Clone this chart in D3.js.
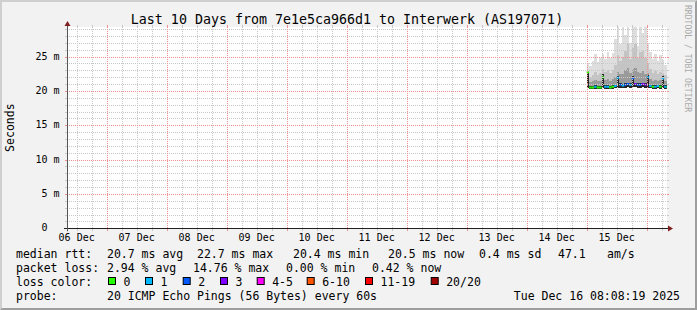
<!DOCTYPE html>
<html>
<head>
<meta charset="utf-8">
<script src="https://cdn.jsdelivr.net/npm/d3@7"></script>
<style>
  body { margin: 0; background: #f2f2f2; }
  text { font-family: "DejaVu Sans Mono", monospace; white-space: pre; }
</style>
</head>
<body>
<div id="chart"></div>
<script>
// ---- data (hourly buckets, ms) ----
var bucketTimes = [
  "2025-12-15 00:00","2025-12-15 01:00","2025-12-15 02:00","2025-12-15 03:00","2025-12-15 04:00",
  "2025-12-15 05:00","2025-12-15 06:00","2025-12-15 07:00","2025-12-15 08:00","2025-12-15 09:00",
  "2025-12-15 10:00","2025-12-15 11:00","2025-12-15 12:00","2025-12-15 13:00","2025-12-15 14:00",
  "2025-12-15 15:00","2025-12-15 16:00","2025-12-15 17:00","2025-12-15 18:00","2025-12-15 19:00",
  "2025-12-15 20:00","2025-12-15 21:00","2025-12-15 22:00","2025-12-15 23:00","2025-12-16 00:00",
  "2025-12-16 01:00","2025-12-16 02:00","2025-12-16 03:00","2025-12-16 04:00","2025-12-16 05:00",
  "2025-12-16 06:00","2025-12-16 07:00","2025-12-16 08:00"];

var medianRtt = [22.7,20.5,20.5,20.6,20.5,20.5,22.0,20.6,20.6,20.5,20.6,20.7,21.9,20.9,20.8,20.9,21.0,
                 20.9,21.8,21.0,20.9,20.9,21.0,20.9,22.0,20.7,20.6,20.6,20.7,20.6,21.8,20.6,20.5];
var lossCount = [0,0,0,1,0,0,0,1,1,0,0,1,1,2,1,2,2,1,2,3,2,2,3,3,1,1,0,1,1,0,1,1,0];

var smokeMin  = [20.4,20.3,20.3,20.3,20.3,20.3,20.4,20.3,20.3,20.3,20.3,20.4,20.4,20.4,20.4,20.4,20.5,
                 20.4,20.5,20.5,20.4,20.4,20.5,20.4,20.4,20.4,20.3,20.3,20.4,20.3,20.4,20.3,20.3];
var smokeMax  = [24.0,23.6,24.4,25.3,24.2,24.8,25.4,24.6,25.6,24.8,25.5,27.5,29.4,26.8,29.4,28.2,29.4,
                 27.0,29.4,29.4,26.6,29.4,28.4,29.4,27.0,25.6,24.6,25.4,24.4,25.2,24.5,23.8,23.6];
var smokeP80  = [22.6,22.0,22.3,22.8,22.3,22.6,23.2,22.7,23.1,22.6,23.0,23.8,25.2,24.4,25.0,25.8,26.8,
                 24.6,26.2,26.8,24.8,25.6,25.8,24.8,24.0,23.2,22.6,22.9,22.5,22.8,22.6,22.3,22.1];
var smokeP65  = [22.6,21.3,21.4,21.6,21.4,21.5,22.5,21.6,21.7,21.5,21.7,22.0,22.8,22.5,22.4,23.0,23.4,
                 22.6,23.2,23.3,22.7,22.6,22.9,22.4,22.6,21.8,21.5,21.6,21.5,21.6,22.3,21.4,21.3];
var smokeP55  = [22.6,20.7,20.7,20.8,20.7,20.7,22.4,20.8,20.8,20.7,20.8,20.9,22.2,21.1,21.0,21.1,21.2,
                 21.1,22.1,21.2,21.1,21.1,21.2,21.1,22.3,20.9,20.8,20.8,20.9,20.8,22.1,20.8,20.7];

var yTickValues = [0, 5, 10, 15, 20, 25];
var yTickLabels = ["0  ", "5 m", "10 m", "15 m", "20 m", "25 m"];

var lossLabels = ["0", "1", "2", "3", "4-5", "6-10", "11-19", "20/20"];
var lossLimits = [0, 1, 2, 3, 5, 10, 19, 20];
var lossColors = ["#26ff00", "#00b8ff", "#0059ff", "#7e00ff", "#ff00ff", "#ff5500", "#ff0000", "#a10000"];

var titleText = "Last 10 Days from 7e1e5ca966d1 to Interwerk (AS197071)";
var rttStats  = ["20.7 ms avg", "22.7 ms max", "20.4 ms min", "20.5 ms now", "0.4 ms sd", "47.1", "am/s"];
var lossStats = ["2.94 % avg", "14.76 % max", "0.00 % min", "0.42 % now"];
var probeText = "20 ICMP Echo Pings (56 Bytes) every 60s";
var dateText  = "Tue Dec 16 08:08:19 2025";

// ---- layout ----
var W = 697, H = 310;
var X0 = 67, X1 = 667, Y0 = 228.3, Y1 = 27;
var rttX = [107, 197, 293, 388, 479, 558, 607];
var lossX = [107, 193, 286, 372];
var boxX = [108, 145, 182.7, 220, 256.7, 306.7, 365, 430.7];

var parseT = d3.utcParse("%Y-%m-%d %H:%M");
var parseFull = d3.utcParse("%Y-%m-%d %H:%M:%S");
var tStart = parseFull("2025-12-06 08:08:19"),
    tEnd = parseFull("2025-12-16 08:08:19");
var times = bucketTimes.map(parseT);

var svg = d3.select("#chart").append("svg")
    .attr("width", W).attr("height", H);

// background and 3d frame
svg.append("rect").attr("width", W).attr("height", H).attr("fill", "#f2f2f2");
svg.append("path").attr("d", "M0,0H697L695,2H2V308L0,310Z").attr("fill", "#cfcfcf");
svg.append("path").attr("d", "M697,0V310H0L2,308H695V2Z").attr("fill", "#9e9e9e");

svg.append("rect").attr("x", X0).attr("y", Y1)
    .attr("width", X1 - X0).attr("height", Y0 - Y1).attr("fill", "#fff");

var x = d3.scaleUtc().domain([tStart, tEnd]).range([X0, X1]);
var y = d3.scaleLinear().domain([0, 29.3]).range([Y0, Y1]);

svg.append("clipPath").attr("id", "plot")
  .append("rect").attr("x", X0).attr("y", Y1).attr("width", X1 - X0).attr("height", Y0 - Y1);

var gData = svg.append("g").attr("clip-path", "url(#plot)");

// smoke, outer (light) to inner (dark)
var layers = [
  {top: smokeMax, color: "#dedede"},
  {top: smokeP80, color: "#c4c4c4"},
  {top: smokeP65, color: "#9a9a9a"},
  {top: smokeP55, color: "#262626"}
];
layers.forEach(function(l) {
  gData.append("g").selectAll("rect")
    .data(times)
    .enter().append("rect")
      .attr("x", function(d) { return x(d); })
      .attr("width", function(d) { return x(d3.utcHour.offset(d, 1)) - x(d); })
      .attr("y", function(d, i) { return y(l.top[i]); })
      .attr("height", function(d, i) { return y(smokeMin[i]) - y(l.top[i]); })
      .attr("fill", l.color)
      .attr("shape-rendering", "crispEdges");
});

function lossColor(n) {
  for (var k = 0; k < lossLimits.length; k++) {
    if (n <= lossLimits[k]) return lossColors[k];
  }
  return lossColors[lossColors.length - 1];
}

// median line coloured by loss
gData.append("g").selectAll("line")
  .data(times)
  .enter().append("line")
    .attr("x1", function(d) { return x(d); })
    .attr("x2", function(d) { return x(d3.utcHour.offset(d, 1)); })
    .attr("y1", function(d, i) { return y(medianRtt[i]); })
    .attr("y2", function(d, i) { return y(medianRtt[i]); })
    .attr("stroke", function(d, i) { return lossColor(lossCount[i]); })
    .attr("stroke-width", 2);

// grid on top: minor first, major after so it stays visible
var minorCol = "#c8c8c8", majorCol = "#f09090";
var gMinor = svg.append("g"), gMajor = svg.append("g");

function gridLine(g, x1, y1, x2, y2, c) {
  g.append("line").attr("x1", x1).attr("y1", y1).attr("x2", x2).attr("y2", y2)
      .attr("stroke", c).attr("stroke-width", 1).attr("stroke-dasharray", "1,1")
      .attr("shape-rendering", "crispEdges");
}
function tickLine(g, x1, y1, x2, y2, c) {
  g.append("line").attr("x1", x1).attr("y1", y1).attr("x2", x2).attr("y2", y2)
      .attr("stroke", c).attr("stroke-width", 1).attr("shape-rendering", "crispEdges");
}

d3.range(1, 30).forEach(function(v) {
  if (y(v) < Y1) return;
  var yy = Math.round(y(v)) + 0.5;
  var major = v % 5 === 0;
  var g = major ? gMajor : gMinor, c = major ? majorCol : minorCol;
  gridLine(g, X0, yy, X1, yy, c);
  tickLine(g, X0 - 2, yy, X0, yy, c);
  tickLine(g, X1, yy, X1 + 2, yy, c);
});

d3.utcHour.every(6).range(tStart, tEnd).forEach(function(t) {
  var xx = Math.round(x(t)) + 0.5;
  var major = t.getUTCHours() === 0;
  var g = major ? gMajor : gMinor, c = major ? majorCol : minorCol;
  gridLine(g, xx, Y1, xx, Y0, c);
  tickLine(g, xx, Y0, xx, Y0 + 3, c);
  tickLine(g, xx, Y1 - 2, xx, Y1, c);
});

// axes with arrows
var ay = Math.round(Y0) + 0.5;
svg.append("line").attr("x1", X0 - 3).attr("x2", X1 + 4).attr("y1", ay).attr("y2", ay)
    .attr("stroke", "#1f1f1f");
svg.append("line").attr("x1", X0 + 0.5).attr("x2", X0 + 0.5).attr("y1", Y0 + 3).attr("y2", Y1 - 4)
    .attr("stroke", "#555");
svg.append("path").attr("d", "M" + (X1 + 6) + "," + ay + "l-5,-3v6z").attr("fill", "#801f1f");
svg.append("path").attr("d", "M" + (X0 + 0.5) + "," + (Y1 - 6) + "l-3,5h6z").attr("fill", "#801f1f");

// x labels, centred on noon
svg.append("g").selectAll("text")
  .data(d3.utcDay.range(d3.utcDay.floor(tStart), tEnd)
          .map(function(d) { return d3.utcHour.offset(d, 12); })
          .filter(function(d) { return d >= tStart && d < tEnd; }))
  .enter().append("text")
    .attr("x", function(d) { return x(d); })
    .attr("y", 241)
    .attr("text-anchor", "middle")
    .style("font-size", "10px")
    .text(d3.utcFormat("%d %b"));

// y labels
svg.append("g").selectAll("text")
  .data(yTickValues)
  .enter().append("text")
    .attr("x", 59.5)
    .attr("y", function(d) { return y(d) + 3; })
    .attr("text-anchor", "end")
    .attr("xml:space", "preserve")
    .style("font-size", "10px")
    .text(function(d, i) { return yTickLabels[i]; });

svg.append("text")
    .attr("transform", "translate(14," + ((Y0 + Y1) / 2) + ") rotate(-90)")
    .attr("text-anchor", "middle")
    .style("font-size", "11.5px")
    .text("Seconds");

svg.append("text")
    .attr("x", 347).attr("y", 24)
    .attr("text-anchor", "middle")
    .style("font-size", "13.3px")
    .text(titleText);

svg.append("text")
    .attr("transform", "translate(684.5,5) rotate(90)")
    .attr("fill", "#aaaaaa")
    .style("font-size", "8.1px")
    .text("RRDTOOL / TOBI OETIKER");

// legend
var leg = svg.append("g").style("font-size", "11.5px");
leg.append("text").attr("x", 16).attr("y", 258).text("median rtt:");
rttStats.forEach(function(s, i) {
  leg.append("text").attr("x", rttX[i]).attr("y", 258).text(s);
});
leg.append("text").attr("x", 16).attr("y", 272).text("packet loss:");
lossStats.forEach(function(s, i) {
  leg.append("text").attr("x", lossX[i]).attr("y", 272).text(s);
});
leg.append("text").attr("x", 16).attr("y", 285.5).text("loss color:");
lossLabels.forEach(function(s, i) {
  leg.append("rect").attr("x", boxX[i] + 0.5).attr("y", 277.5).attr("width", 7).attr("height", 7)
      .attr("fill", lossColors[i]).attr("stroke", "#000");
  leg.append("text").attr("x", boxX[i] + 15.5).attr("y", 285.5).text(s);
});
leg.append("text").attr("x", 16).attr("y", 299.5).text("probe:");
leg.append("text").attr("x", 107).attr("y", 299.5).text(probeText);
leg.append("text").attr("x", 680).attr("y", 299.5).attr("text-anchor", "end").text(dateText);
</script>
</body>
</html>
